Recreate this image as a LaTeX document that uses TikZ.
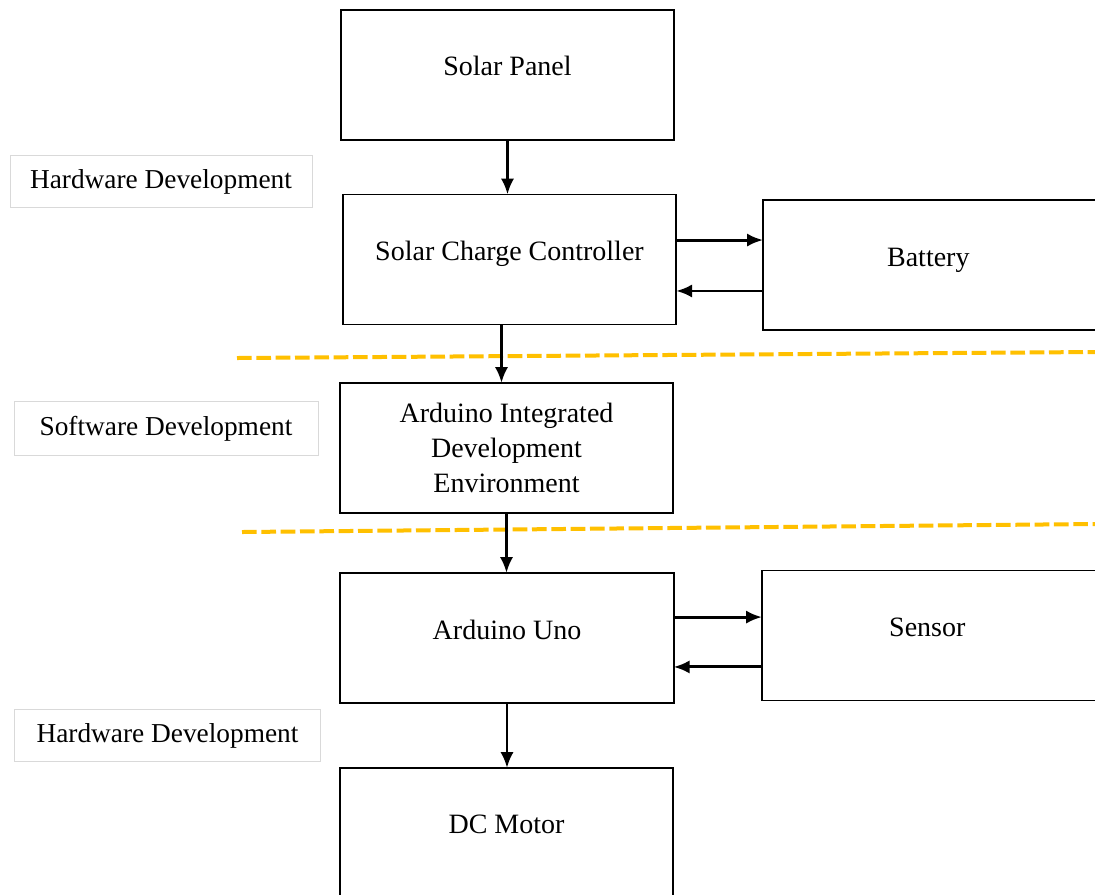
\documentclass[tikz,border=0pt]{standalone}
\usepackage{fontspec}
\setmainfont{Liberation Serif}
\usepackage{tikz}
\usetikzlibrary{arrows.meta}
\definecolor{gold}{RGB}{255,192,0}

\begin{document}
\begin{tikzpicture}[x=0.75pt, y=-0.75pt,
		block/.style={draw, line width=1.3pt, minimum width=250pt, minimum height=97.5pt, inner sep=0pt, outer sep=0pt},
		tag/.style={draw=black!15, line width=0.6pt, minimum height=39pt, inner sep=0pt, font=\fontsize{20.5}{24}\selectfont},
		link/.style={->, >={Latex[length=12pt, width=10pt]}, line width=2.2pt},
		border/.style={line width=3pt, color=gold, dash pattern=on 11pt off 3.5pt}]
		\clip (0, 0) rectangle (1095, 894);
		\fill[white] (0, 0) rectangle (1095, 894);
		\fontsize{21}{26}\selectfont
		% blocks
		\node[block, label={[yshift=6.75pt]center:Solar Panel}] (panel) at (507.5, 75) {};
		\node[block, label={[yshift=4.5pt]center:Solar Charge Controller}] (ctrl) at (509.5, 259.5) {};
		\node[block, minimum width=252pt, label={[xshift=-2pt, yshift=3.5pt]center:Battery}] (batt) at (931, 265) {};
		\node[block, align=center] (ide) at (506.5, 448) {Arduino Integrated\\Development\\Environment};
		\node[block, label={[yshift=6pt]center:Arduino Uno}] (uno) at (507, 638) {};
		\node[block, minimum width=252pt, label={[xshift=-2pt, yshift=6pt]center:Sensor}] (sens) at (930, 635.5) {};
		\node[block, label={[yshift=6.75pt]center:DC Motor}] (motor) at (506.5, 833) {};
		% side tags
		\node[tag, minimum width=226.5pt, text depth=3pt] (hw1) at (161, 181) {Hardware Development};
		\node[tag, minimum width=228pt, minimum height=40.5pt, text depth=3pt] (sw) at (166, 428) {Software Development};
		\node[tag, minimum width=229pt, text depth=3pt] (hw2) at (167.5, 735) {Hardware Development};
		% boundaries
		\draw[border] (237, 358) -- (1095, 352);
		\draw[border] (242, 532) -- (1095, 524);
		% links
		\draw[link] (panel.south) -- (panel.south |- ctrl.north);
		\coordinate (c1) at ([xshift=-6pt]ctrl.south);
		\draw[link] (c1) -- (c1 |- ide.north);
		\draw[link] (ide.south) -- (ide.south |- uno.north);
		\draw[link] (uno.south) -- (uno.south |- motor.north);
		\coordinate (c2) at ([yshift=14.6pt]ctrl.east);
		\draw[link] (c2) -- (c2 -| batt.west);
		\coordinate (c3) at ([yshift=-23.6pt]ctrl.east);
		\draw[link] (c3 -| batt.west) -- (c3);
		\coordinate (c4) at ([yshift=15.7pt]uno.east);
		\draw[link] (c4) -- (c4 -| sens.west);
		\coordinate (c5) at ([yshift=-21.7pt]uno.east);
		\draw[link] (c5 -| sens.west) -- (c5);
\end{tikzpicture}
\end{document}
